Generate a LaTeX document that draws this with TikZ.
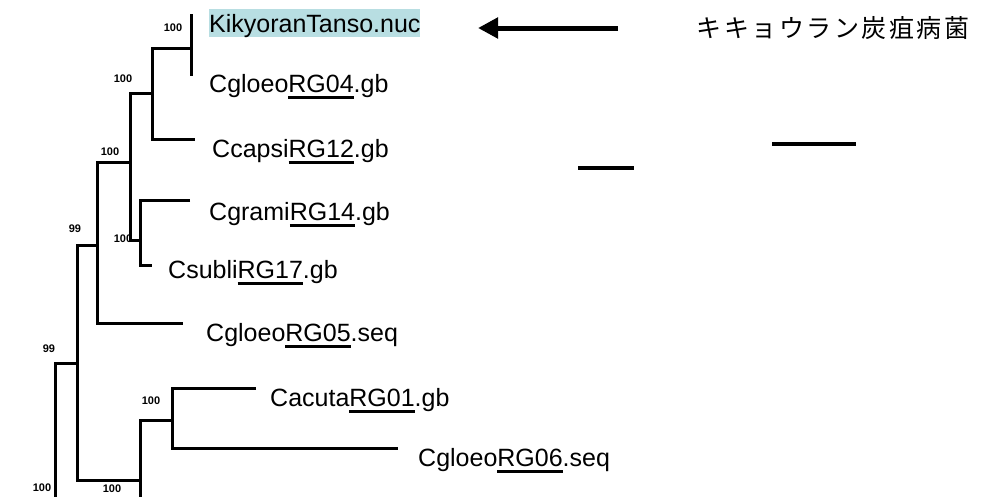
\documentclass[tikz,border=0pt]{standalone}
\usepackage{fontspec}
\setmainfont{Liberation Sans}
\newfontfamily\jpfont[LetterSpace=10]{Noto Sans CJK JP}
\usetikzlibrary{arrows.meta}
\definecolor{hl}{RGB}{184,222,226}
\newcommand\ulrg[1]{\setbox0\hbox{#1}\rlap{\raisebox{-6.5pt}{\rule{\wd0}{2.6pt}}}\box0}
\begin{document}
\begin{tikzpicture}[x=1pt,y=-1pt,
  branch/.style={line width=3pt},
  taxon/.style={anchor=base west, inner sep=0pt, font=\fontsize{25}{25}\selectfont},
  boot/.style={inner sep=0pt, font=\bfseries\fontsize{11}{11}\selectfont},
  bar/.style={line width=3.5pt}]
\useasboundingbox (0,0) rectangle (981,496);
\clip (0,0) rectangle (981,496);
\fill[white] (0,0) rectangle (981,496);

% taxa
\node[taxon, fill=hl, text height=23pt, text depth=5pt] (kik) at (209,32) {KikyoranTanso.nuc};
\node[taxon] (rg04) at (209,92) {Cgloeo\ulrg{RG04}.gb};
\node[taxon] (rg12) at (212,157) {Ccapsi\ulrg{RG12}.gb};
\node[taxon] (rg14) at (209,220) {Cgrami\ulrg{RG14}.gb};
\node[taxon] (rg17) at (168,278) {Csubli\ulrg{RG17}.gb};
\node[taxon] (rg05) at (206,341) {Cgloeo\ulrg{RG05}.seq};
\node[taxon] (rg01) at (270,406) {Cacuta\ulrg{RG01}.gb};
\node[taxon] (rg06) at (418,466) {Cgloeo\ulrg{RG06}.seq};

% tree coordinates
\coordinate (tK) at (191,14);
\coordinate (t04) at (191,76);
\coordinate (n1) at (191,48);
\coordinate (n2) at (152,93);
\coordinate (tCc) at (195,139);
\coordinate (n3) at (130,162);
\coordinate (n4) at (140,240);
\coordinate (tGr) at (190,200);
\coordinate (tSu) at (152,265);
\coordinate (n5) at (97,245);
\coordinate (t05) at (183,323);
\coordinate (n6) at (77,363);
\coordinate (n7) at (140,480);
\coordinate (n7off) at (140,530);
\coordinate (n8) at (172,420);
\coordinate (tAc) at (256,388);
\coordinate (t06) at (398,448);
\coordinate (n9off) at (55,530);

\draw[branch] (tK) -- (t04);
\draw[branch] (n1) -| (n2) |- (tCc);
\draw[branch] (n2) -| (n3) |- (n4);
\draw[branch] (tGr) -| (n4) |- (tSu);
\draw[branch] (n3) -| (n5) |- (t05);
\draw[branch] (n5) -| (n6) |- (n7);
\draw[branch] (n8) -| (n7off);
\draw[branch] (tAc) -| (n8) |- (t06);
\draw[branch] (n6) -| (n9off);

% bootstrap labels
\node[boot] (b1) at (173,28) {100};
\node[boot] (b2) at (123,79) {100};
\node[boot] (b3) at (110,152) {100};
\node[boot] (b4) at (75,229) {99};
\node[boot] (b5) at (123,239) {100};
\node[boot] (b6) at (49,349) {99};
\node[boot] (b7) at (151,401) {100};
\node[boot] (b8) at (42,488) {100};
\node[boot] (b9) at (112,489) {100};

% arrow and caption
\coordinate (atail) at (618,28);
\coordinate (ahead) at (478,28);
\draw[line width=5pt, -{Triangle[length=20pt,width=20pt]}] (atail) -- (ahead);
\node[inner sep=0pt, font=\jpfont\fontsize{25}{25}\selectfont] (jp) at (833,28) {キキョウラン炭疽病菌};

% scale bars
\coordinate (s1a) at (578,168);
\coordinate (s1b) at (634,168);
\coordinate (s2a) at (772,144);
\coordinate (s2b) at (856,144);
\draw[bar] (s1a) -- (s1b);
\draw[bar] (s2a) -- (s2b);
\end{tikzpicture}
\end{document}
